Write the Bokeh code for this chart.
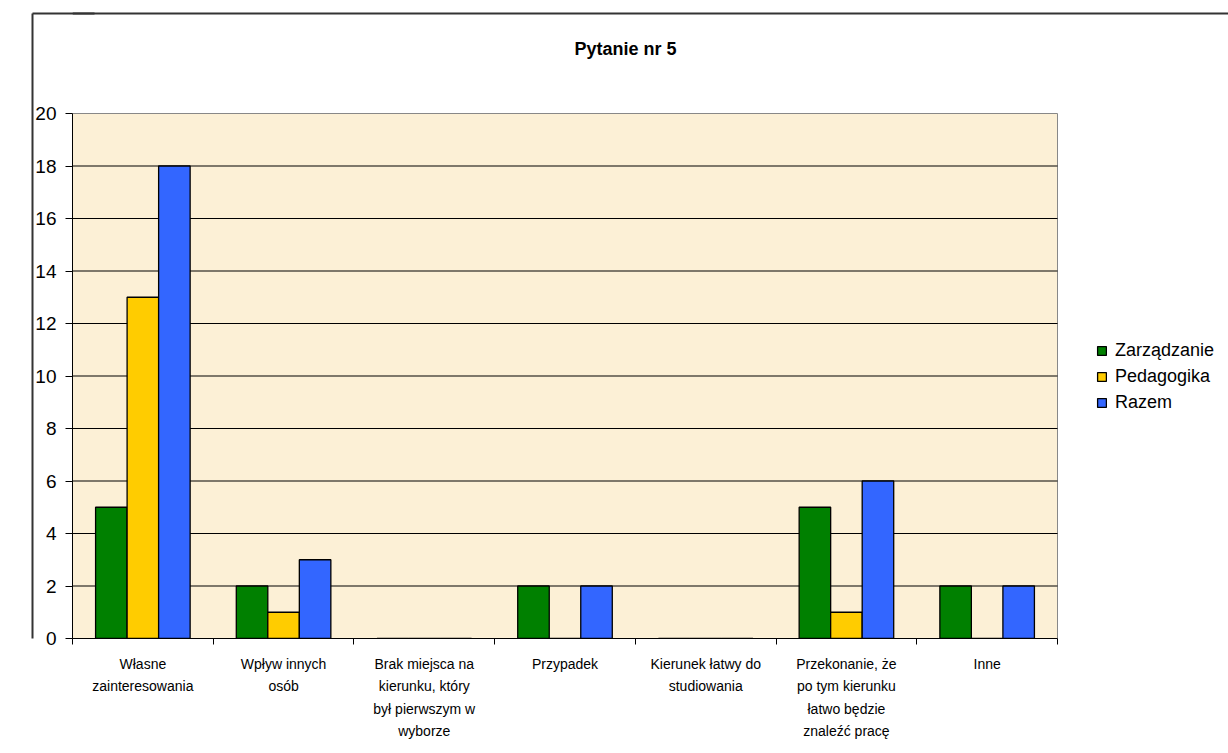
from bokeh.plotting import figure
from bokeh.models import (Range1d, FixedTicker, Legend, LegendItem, Label,
                          LinearAxis, ColumnDataSource)
from bokeh.transform import dodge
from bokeh.embed import file_html
from bokeh.resources import INLINE

categories = [
    "Własne\nzainteresowania",
    "Wpływ innych\nosób",
    "Brak miejsca na\nkierunku, który\nbył pierwszym w\nwyborze",
    "Przypadek",
    "Kierunek łatwy do\nstudiowania",
    "Przekonanie, że\npo tym kierunku\nłatwo będzie\nznaleźć pracę",
    "Inne",
]
zarzadzanie = [5, 2, 0, 2, 0, 5, 2]
pedagogika = [13, 1, 0, 0, 0, 1, 0]
razem = [18, 3, 0, 2, 0, 6, 2]
series_names = ["Zarządzanie", "Pedagogika", "Razem"]
series_colors = ["#008000", "#FFCC00", "#3366FF"]
y_ticks = list(range(0, 21, 2))
y_max = 20
title_text = "Pytanie nr 5"

FONT = "Liberation Sans"
n = len(categories)

# pixel geometry of the chart (plot area 985 x 525 px inside a wider frame)
W, H = 1228, 753
left_b, bottom_b = 72, 115
plot_w, plot_h = 985, 525
frame_w, frame_h = W - left_b, H - bottom_b
px_x = n / plot_w          # data units per pixel, x
px_y = y_max / plot_h      # data units per pixel, y
x_end = frame_w * px_x
y_end = frame_h * px_y

src = ColumnDataSource(dict(
    x=[i + 0.5 for i in range(n)],
    z=zarzadzanie, p=pedagogika, r=razem,
))

p = figure(width=W, height=H, output_backend="svg", toolbar_location=None,
           x_range=Range1d(0, x_end), y_range=Range1d(0, y_end),
           min_border_left=left_b, min_border_right=0,
           min_border_top=0, min_border_bottom=bottom_b)

p.background_fill_color = "white"
p.border_fill_color = "white"
p.outline_line_color = None

# plot area background + border
p.quad(left=0, right=n, bottom=0, top=y_max, fill_color="#FCF0D6",
       line_color="#888888", line_width=1)

# horizontal grid lines inside plot area
p.segment(x0=0, x1=n, y0=y_ticks[1:-1], y1=y_ticks[1:-1],
          line_color="black", line_width=1)

bw = 0.224
renderers = []
for key, off, col in zip(["z", "p", "r"], [-bw, 0, bw], series_colors):
    r = p.vbar(x=dodge("x", off, range=p.x_range), top=key, bottom=0, width=bw,
               source=src, fill_color=col, line_color="black", line_width=1.3)
    renderers.append(r)

# y axis
p.yaxis.ticker = FixedTicker(ticks=y_ticks)
p.yaxis.bounds = (0, y_max)
p.yaxis.axis_line_color = "black"
p.yaxis.major_tick_out = 7
p.yaxis.major_tick_in = 0
p.yaxis.minor_tick_line_color = None
p.yaxis.major_label_text_font = FONT
p.yaxis.major_label_text_font_size = "19px"
p.yaxis.major_label_text_color = "black"
p.yaxis.major_label_standoff = 9

# x axis
p.xaxis.ticker = FixedTicker(ticks=[i + 0.5 for i in range(n)],
                             minor_ticks=list(range(n + 1)))
p.xaxis.bounds = (0, n)
p.xaxis.major_label_overrides = {i + 0.5: c for i, c in enumerate(categories)}
p.xaxis.axis_line_color = "black"
p.xaxis.major_tick_out = 0
p.xaxis.major_tick_in = 0
p.xaxis.minor_tick_out = 6
p.xaxis.minor_tick_in = 0
p.xaxis.minor_tick_line_color = "black"
p.xaxis.major_label_text_font = FONT
p.xaxis.major_label_text_font_size = "14px"
p.xaxis.major_label_text_color = "black"
p.xaxis.major_label_text_line_height = 1.41
p.xaxis.major_label_standoff = 11

p.xgrid.grid_line_color = None
p.ygrid.grid_line_color = None

# outer chart border
border_y = y_end - 13 * px_y
# top edge inside the frame
p.add_layout(LinearAxis(ticker=FixedTicker(ticks=[]), fixed_location=border_y,
                        bounds=(0, x_end), axis_line_color="#333333",
                        axis_line_width=2, major_tick_line_color=None,
                        minor_tick_line_color=None), "above")
# invisible spacer in the left panel (width comes from the label standoff)
p.add_layout(LinearAxis(ticker=FixedTicker(ticks=[border_y]),
                        major_label_overrides={border_y: ""},
                        major_label_standoff=23, axis_line_color=None,
                        major_tick_out=0, major_tick_in=0,
                        major_tick_line_color=None,
                        minor_tick_line_color=None), "left")
# left edge (axis line) + its top-left corner (one inward tick)
p.add_layout(LinearAxis(ticker=FixedTicker(ticks=[border_y]),
                        bounds=(0, border_y), axis_line_color="#333333",
                        axis_line_width=2, major_tick_line_color="#333333",
                        major_tick_line_width=2, major_tick_in=62,
                        major_tick_out=0, minor_tick_line_color=None,
                        major_label_overrides={border_y: ""},
                        major_label_standoff=0), "left")

legend = Legend(items=[LegendItem(label=nm, renderers=[r])
                       for nm, r in zip(series_names, renderers)],
                location=(1024, 225), padding=10, spacing=5,
                glyph_width=11, glyph_height=11, label_standoff=8,
                label_text_font=FONT, label_text_font_size="18px",
                label_text_color="black",
                border_line_color=None, background_fill_alpha=0)
p.add_layout(legend)

p.add_layout(Label(x=3.93, y=y_max + 65 * px_y, text=title_text,
                   text_align="center", text_baseline="middle",
                   text_font=FONT, text_font_size="18px",
                   text_font_style="bold", text_color="black"))

open("out.html", "w").write(file_html(p, INLINE))
